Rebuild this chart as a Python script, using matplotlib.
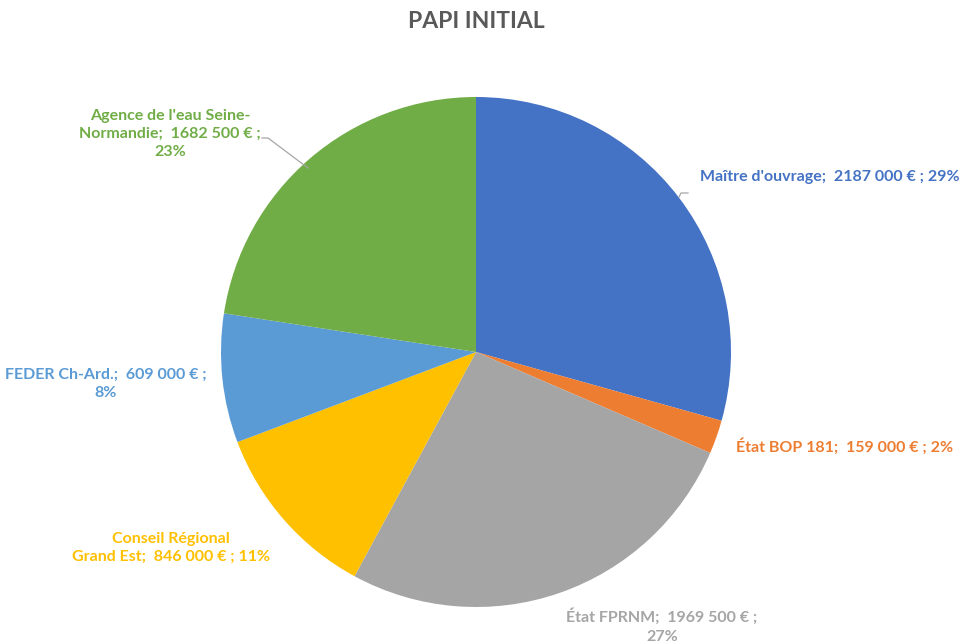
import matplotlib.pyplot as plt

plt.rcParams['font.family'] = ['Lato', 'DejaVu Sans']

# data
financeurs = ["Maître d'ouvrage", "État BOP 181", "État FPRNM",
              "Conseil Régional\nGrand Est", "FEDER Ch-Ard.",
              "Agence de l'eau Seine-\nNormandie"]
montants = [2187000, 159000, 1969500, 846000, 609000, 1682500]
pourcents = [29, 2, 27, 11, 8, 23]
couleurs = ['#4472C4', '#ED7D31', '#A5A5A5', '#FFC000', '#5B9BD5', '#70AD47']


def euros(v):
    return f"{v // 1000} {v % 1000:03d} €"


textes = [
    f"{financeurs[0]};  {euros(montants[0])} ; {pourcents[0]}%",
    f"{financeurs[1]};  {euros(montants[1])} ; {pourcents[1]}%",
    f"{financeurs[2]};  {euros(montants[2])} ;\n{pourcents[2]}%",
    f"{financeurs[3]};  {euros(montants[3])} ; {pourcents[3]}%",
    f"{financeurs[4]};  {euros(montants[4])} ;\n{pourcents[4]}%",
    "Agence de l'eau Seine-\nNormandie;  " + euros(montants[5]) + " ;\n" + f"{pourcents[5]}%",
]

W, H = 960, 643
cx, cy, r = 476, 352, 255

fig = plt.figure(figsize=(9.6, 6.43), dpi=100)
ax = fig.add_axes([(cx - r) / W, (H - cy - r) / H, 2 * r / W, 2 * r / H])
ax.pie(montants, colors=couleurs, startangle=90, counterclock=False,
       radius=1, wedgeprops=dict(linewidth=0))
ax.set_xlim(-1, 1)
ax.set_ylim(-1, 1)
ax.set_aspect('equal')


def px(x, y):
    return (x - cx) / r, (cy - y) / r


# label placement (pixel positions in the reference)
places = [
    (700, 177, 'left'),
    (736, 446, 'left'),
    (662, 626, 'center'),
    (171, 548, 'center'),
    (106, 384, 'center'),
    (170, 134, 'center'),
]
for t, c, (x, y, ha) in zip(textes, couleurs, places):
    ax.text(*px(x, y), t, color=c, ha=ha, va='center', fontsize=11.5,
            fontweight='bold', linespacing=1.4, clip_on=False)

# leader lines
ax.plot(*zip(px(262, 138), px(268, 138), px(308, 168)), color='#A6A6A6',
        lw=0.9, clip_on=False)
ax.plot(*zip(px(688, 193), px(681, 193), px(679, 197)), color='#A6A6A6',
        lw=0.9, clip_on=False)

fig.text(0.496, 1 - 21 / H, "PAPI INITIAL", ha='center', va='center',
         fontsize=16.5, fontweight='bold', color='#595959')

fig.savefig('out.png', dpi=100)
